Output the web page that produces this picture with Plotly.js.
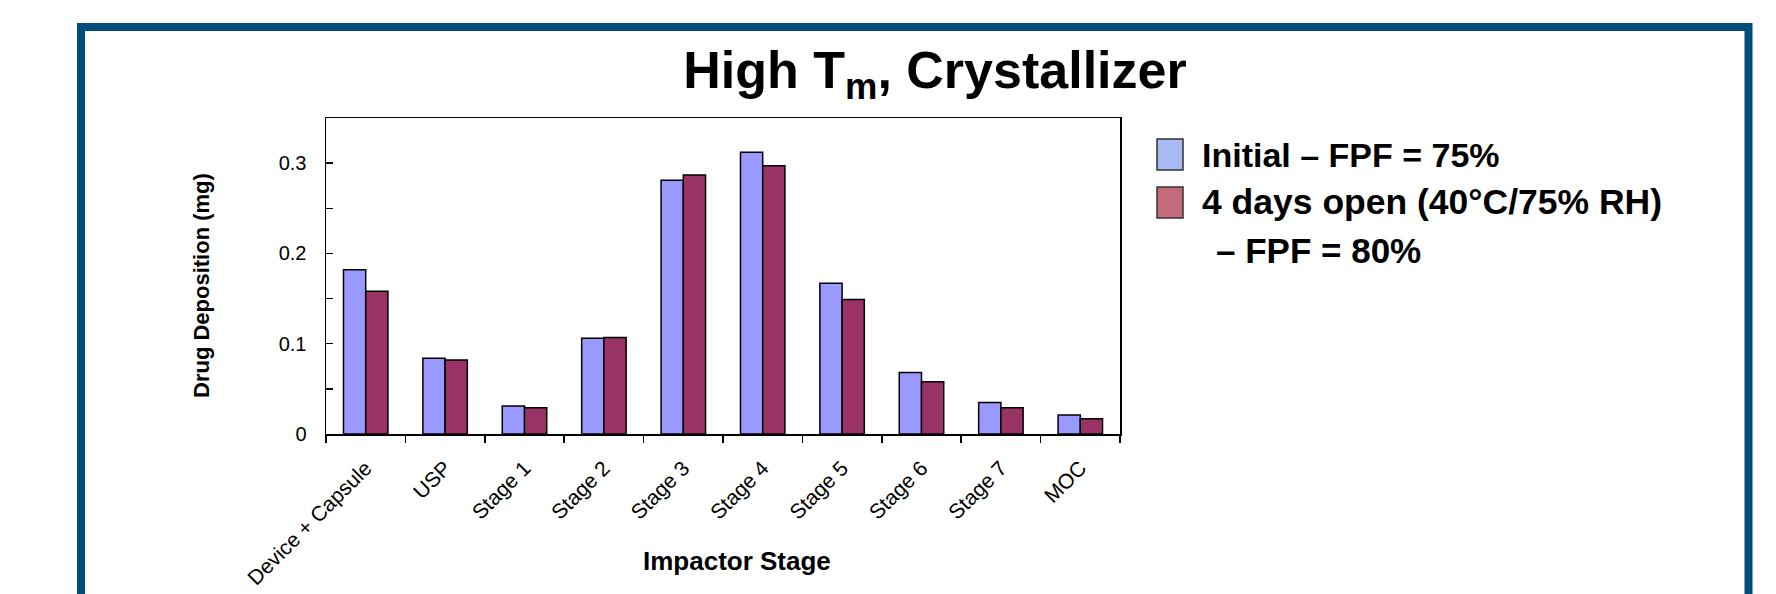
<!DOCTYPE html>
<html>
<head>
<meta charset="utf-8">
<script src="https://cdn.plot.ly/plotly-3.0.1.min.js"></script>
<style>html,body{margin:0;padding:0;background:#fff;} #chart{width:1776px;height:594px;}</style>
</head>
<body>
<div id="chart"></div>
<script>
// ---- data ----
var categories = ["Device + Capsule", "USP", "Stage 1", "Stage 2", "Stage 3", "Stage 4", "Stage 5", "Stage 6", "Stage 7", "MOC"];
var initialValues = [0.182, 0.084, 0.031, 0.106, 0.281, 0.312, 0.167, 0.068, 0.035, 0.021];
var agedValues = [0.158, 0.082, 0.029, 0.107, 0.287, 0.297, 0.149, 0.058, 0.029, 0.017];
var seriesNames = ["Initial \u2013 FPF = 75%", "4 days open (40\u00b0C/75% RH)"];
var seriesNote = "\u2013 FPF = 80%";
var yTickVals = [0, 0.1, 0.2, 0.3];
var yTickText = ["0", "0.1", "0.2", "0.3"];

// ---- geometry helpers (plot area in pixels) ----
var W = 1776, H = 594;
var L = 326, R = 1120, T = 118, B = 434;
function px(x) { return (x - L) / (R - L); }
function py(y) { return (B - y) / (B - T); }

var font = "Arial, 'Liberation Sans', sans-serif";

var traces = [
  { type: "bar", name: seriesNames[0], x: categories, y: initialValues,
    marker: { color: "#9999FF", line: { color: "#000000", width: 1.5 } } },
  { type: "bar", name: seriesNames[1], x: categories, y: agedValues,
    marker: { color: "#993366", line: { color: "#000000", width: 1.5 } } }
];

var frameColor = "#004C7B";
var shapes = [
  // slide frame
  { type: "rect", xref: "paper", yref: "paper",
    x0: px(81), x1: px(1748.5), y0: py(27), y1: py(700),
    line: { color: frameColor, width: 8 }, fillcolor: "rgba(0,0,0,0)", layer: "below" },
  // legend swatches
  { type: "rect", xref: "paper", yref: "paper",
    x0: px(1157), x1: px(1183), y0: py(170), y1: py(139),
    line: { color: "#333333", width: 1.5 }, fillcolor: "#A9B9F2" },
  { type: "rect", xref: "paper", yref: "paper",
    x0: px(1157), x1: px(1183), y0: py(218), y1: py(187),
    line: { color: "#333333", width: 1.5 }, fillcolor: "#C46A7A" }
];

var annotations = [
  { xref: "paper", yref: "paper", x: px(1200), y: py(155), xanchor: "left", yanchor: "middle",
    text: seriesNames[0], showarrow: false, font: { family: font, size: 34, color: "#000", weight: "bold" } },
  { xref: "paper", yref: "paper", x: px(1200), y: py(202), xanchor: "left", yanchor: "middle",
    text: seriesNames[1], showarrow: false, font: { family: font, size: 35.5, color: "#000", weight: "bold" } },
  { xref: "paper", yref: "paper", x: px(1214), y: py(250), xanchor: "left", yanchor: "middle",
    text: seriesNote, showarrow: false, font: { family: font, size: 35, color: "#000", weight: "bold" } },
  // axis titles
  { xref: "paper", yref: "paper", x: px(201), y: py(286), xanchor: "center", yanchor: "middle",
    text: "Drug Deposition (mg)", textangle: -90, showarrow: false,
    font: { family: font, size: 22, color: "#000", weight: "bold" } },
  { xref: "paper", yref: "paper", x: px(737), y: py(561), xanchor: "center", yanchor: "middle",
    text: "Impactor Stage", showarrow: false,
    font: { family: font, size: 26, color: "#000", weight: "bold" } }
];

var layout = {
  width: W, height: H,
  margin: { l: L, r: W - R, t: T, b: H - B, pad: 0 },
  paper_bgcolor: "#ffffff", plot_bgcolor: "#ffffff",
  showlegend: false,
  barmode: "group", bargap: 0.44, bargroupgap: 0,
  title: { text: "<b>High T<sub>m</sub>, Crystallizer</b>", x: 935 / W, xanchor: "center",
    y: 1 - 70 / H, yanchor: "middle", yref: "container",
    font: { family: font, size: 52, color: "#000" } },
  xaxis: {
    type: "category", range: [-0.5, 9.5], fixedrange: true,
    showline: true, linecolor: "#000", linewidth: 1.5, mirror: true,
    ticks: "outside", tickson: "boundaries", ticklen: 7, tickwidth: 1.5, tickcolor: "#000",
    tickangle: -45, ticklabelstandoff: 12,
    tickfont: { family: font, size: 21, color: "#000" },
    showgrid: false, zeroline: false, automargin: false
  },
  yaxis: {
    range: [0, 0.35], fixedrange: true,
    tickvals: yTickVals, ticktext: yTickText,
    showline: true, linecolor: "#000", linewidth: 1.5, mirror: true,
    ticks: "inside", ticklen: 7, tickwidth: 1.5, tickcolor: "#000",
    minor: { dtick: 0.05, ticks: "inside", ticklen: 7, tickwidth: 1.5, tickcolor: "#000", showgrid: false },
    ticklabelstandoff: 14,
    tickfont: { family: font, size: 20, color: "#000" },
    showgrid: false, zeroline: false, automargin: false
  },
  shapes: shapes,
  annotations: annotations
};

Plotly.newPlot("chart", traces, layout, { displayModeBar: false, staticPlot: true });
</script>
</body>
</html>
